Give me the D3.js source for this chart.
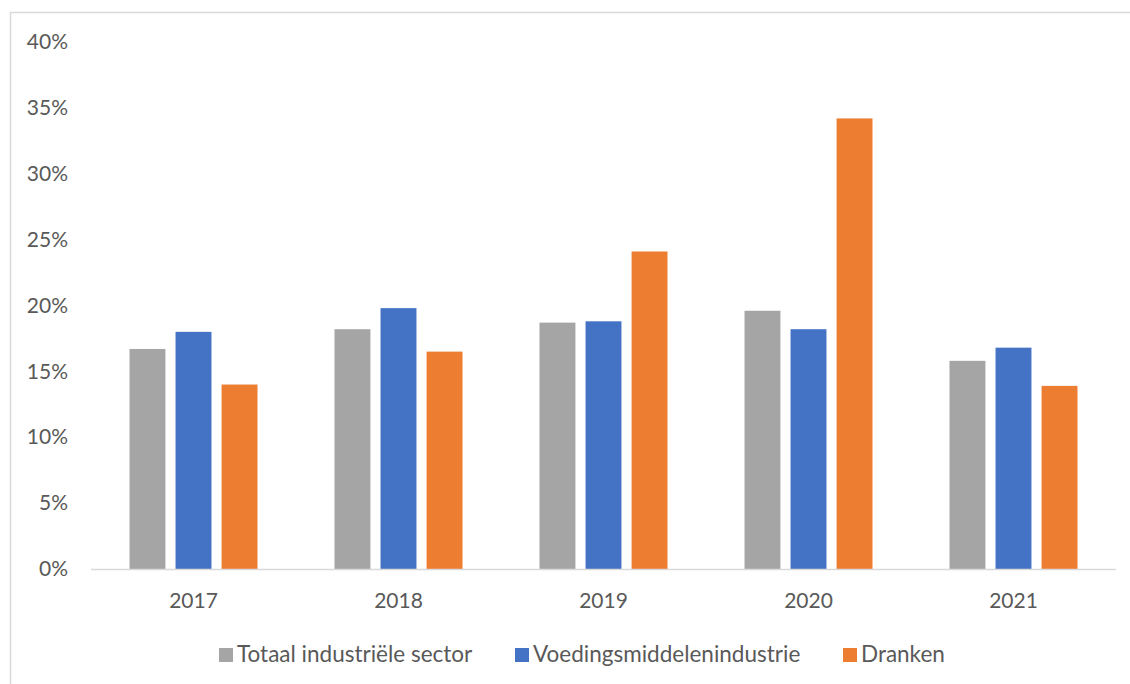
<!DOCTYPE html>
<html>
<head>
<meta charset="utf-8">
<script src="https://cdn.jsdelivr.net/npm/d3@7"></script>
<style>
  html, body { margin: 0; padding: 0; background: #fff; }
  svg { display: block; }
  text { font-family: Lato, "Open Sans", sans-serif; fill: #595959; }
</style>
</head>
<body>
<svg id="chart" width="1130" height="684"></svg>
<script>
// Jaren en reeksen
const years = ["2017", "2018", "2019", "2020", "2021"];
const seriesNames = ["Totaal industriële sector", "Voedingsmiddelenindustrie", "Dranken"];
const totaalIndustrie = [16.7, 18.2, 18.7, 19.6, 15.8];
const voedingsmiddelen = [18.0, 19.8, 18.8, 18.2, 16.8];
const dranken = [14.0, 16.5, 24.1, 34.2, 13.9];
const seriesColors = ["#A5A5A5", "#4472C4", "#ED7D31"];
const yTicks = [0, 5, 10, 15, 20, 25, 30, 35, 40];

const seriesValues = [totaalIndustrie, voedingsmiddelen, dranken];
const FONT = "Lato, 'Open Sans', sans-serif";
const FONT_SIZE = "21px";
const LEGEND_FONT_SIZE = "22.5px";

const svg = d3.select("#chart");

// Kader rond het diagram
svg.append("rect")
  .attr("x", 10.5).attr("y", 12.5)
  .attr("width", 1140).attr("height", 700)
  .attr("fill", "none")
  .attr("stroke", "#D9D9D9")
  .attr("stroke-width", 1.5);

const plot = { left: 91, right: 1116, top: 42, bottom: 569 };

const y = d3.scaleLinear().domain([0, 40]).range([plot.bottom, plot.top]);
const x0 = d3.scaleBand().domain(years).range([plot.left, plot.right]).padding(0);
const groupWidth = 128;
const x1 = d3.scaleBand().domain(d3.range(seriesNames.length))
  .range([(x0.bandwidth() - groupWidth) / 2, (x0.bandwidth() + groupWidth) / 2])
  .paddingInner(0.22);

// Y-as labels
const yAxis = d3.axisLeft(y).tickValues(yTicks).tickSize(0).tickPadding(0)
  .tickFormat(d => d + "%");
const gy = svg.append("g").attr("transform", `translate(68,0)`).call(yAxis);
gy.select(".domain").remove();
gy.selectAll("text")
  .attr("fill", "#595959")
  .style("font-size", FONT_SIZE)
  .style("font-family", FONT);

// Staven
const groups = svg.append("g").selectAll("g")
  .data(years)
  .join("g")
  .attr("transform", d => `translate(${x0(d)},0)`);

groups.selectAll("rect")
  .data((d, i) => seriesValues.map((vals, s) => ({ s, v: vals[i] })))
  .join("rect")
  .attr("x", d => x1(d.s))
  .attr("width", x1.bandwidth())
  .attr("y", d => y(d.v))
  .attr("height", d => y(0) - y(d.v))
  .attr("fill", d => seriesColors[d.s]);

// Horizontale as
svg.append("line")
  .attr("x1", plot.left).attr("x2", plot.right)
  .attr("y1", plot.bottom + 0.5).attr("y2", plot.bottom + 0.5)
  .attr("stroke", "#D9D9D9").attr("stroke-width", 1.5);

const xAxis = d3.axisBottom(x0).tickSize(0).tickPadding(0);
const gx = svg.append("g").attr("transform", `translate(0,${plot.bottom})`).call(xAxis);
gx.select(".domain").remove();
gx.selectAll("text")
  .attr("y", 39).attr("dy", null)
  .attr("fill", "#595959")
  .style("font-size", FONT_SIZE)
  .style("font-family", FONT);

// Legenda
const legendX = [219, 515, 843];
const legend = svg.append("g");
seriesNames.forEach((name, i) => {
  const g = legend.append("g").attr("transform", `translate(${legendX[i]},648)`);
  g.append("rect").attr("width", 14).attr("height", 14).attr("fill", seriesColors[i]);
  g.append("text").attr("x", 18).attr("y", 14)
    .style("font-size", LEGEND_FONT_SIZE).text(name);
});
</script>
</body>
</html>
